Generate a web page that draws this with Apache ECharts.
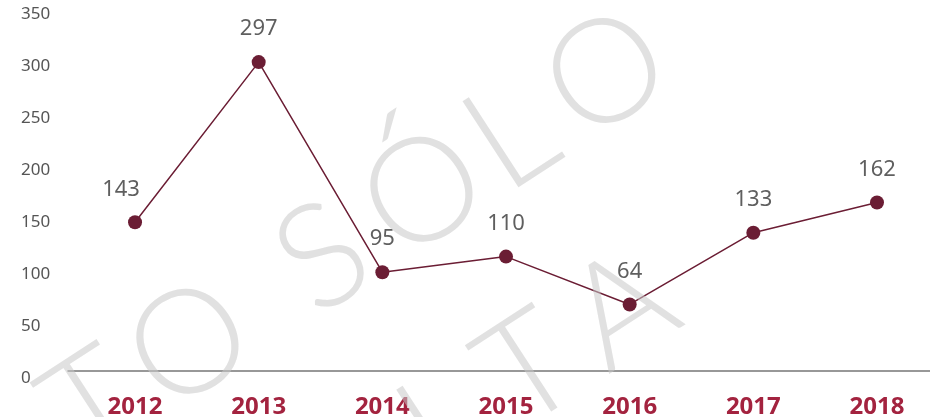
<!DOCTYPE html>
<html>
<head>
<meta charset="utf-8">
<script src="https://cdn.jsdelivr.net/npm/echarts@6/dist/echarts.min.js"></script>
<style>
html,body{margin:0;padding:0;background:#fff;}
#chart{width:930px;height:417px;}
</style>
</head>
<body>
<div id="chart"></div>
<script>
const years = [2012, 2013, 2014, 2015, 2016, 2017, 2018];
const values = [143, 297, 95, 110, 64, 133, 162];
const yTickLabels = [0, 50, 100, 150, 200, 250, 300, 350];
const watermarkLine1 = ['T', 'O', 'S', 'Ó', 'L', 'O'];
const watermarkLine2 = ['L', 'T', 'A'];

const wmOffsets1 = [-476, -361, -202, -82, 22, 136];
const wmOffsets2 = [-100, 0, 111];
const wmStyle = { fill: 'rgba(200,200,200,0.55)', font: '300 145px Lato', align: 'center', verticalAlign: 'middle' };
const rot = 33 * Math.PI / 180;

const chart = echarts.init(document.getElementById('chart'));
chart.setOption({
  animation: false,
  backgroundColor: '#fff',
  grid: { left: 68, right: 0, top: 7, bottom: 46, containLabel: false, outerBoundsMode: 'none' },
  xAxis: {
    type: 'value',
    min: 2011.458,
    max: 2018.4286,
    splitLine: { show: false },
    axisTick: { show: false },
    axisLine: { show: true, lineStyle: { color: '#777', width: 1.5 } },
    axisLabel: {
      customValues: years,
      formatter: v => String(v),
      color: '#A3233F',
      fontFamily: '"Noto Sans"',
      fontWeight: 'bold',
      fontSize: 24,
      margin: 24
    }
  },
  yAxis: {
    type: 'value',
    min: yTickLabels[0],
    max: yTickLabels[yTickLabels.length - 1],
    interval: yTickLabels[1] - yTickLabels[0],
    splitLine: { show: false },
    axisLine: { show: false },
    axisTick: { show: false },
    axisLabel: {
      align: 'left',
      verticalAlign: 'top',
      lineHeight: 14,
      margin: 47,
      color: '#555',
      fontFamily: '"Noto Sans"',
      fontSize: 17
    }
  },
  series: [{
    type: 'line',
    data: years.map((y, i) => i === 0
      ? { value: [y, values[i]], label: { offset: [-14, 0] } }
      : [y, values[i]]),
    symbol: 'circle',
    symbolSize: 14,
    itemStyle: { color: '#6B1D34' },
    lineStyle: { color: '#6B1D34', width: 1.5 },
    label: {
      show: true,
      position: 'top',
      distance: 15,
      color: '#5f5f5f',
      fontFamily: '"Noto Sans"',
      fontSize: 22,
      formatter: p => String(p.value[1])
    }
  }],
  graphic: [
    {
      type: 'group', x: 521, y: 192, rotation: rot, z: 100, silent: true,
      children: watermarkLine1.map((ch, i) => ({
        type: 'text', x: wmOffsets1[i], y: -52, z: 100,
        style: Object.assign({ text: ch }, wmStyle)
      }))
    },
    {
      type: 'group', x: 557, y: 414, rotation: rot, z: 100, silent: true,
      children: watermarkLine2.map((ch, i) => ({
        type: 'text', x: wmOffsets2[i], y: -52, z: 100,
        style: Object.assign({ text: ch }, wmStyle)
      }))
    }
  ]
});
</script>
</body>
</html>
